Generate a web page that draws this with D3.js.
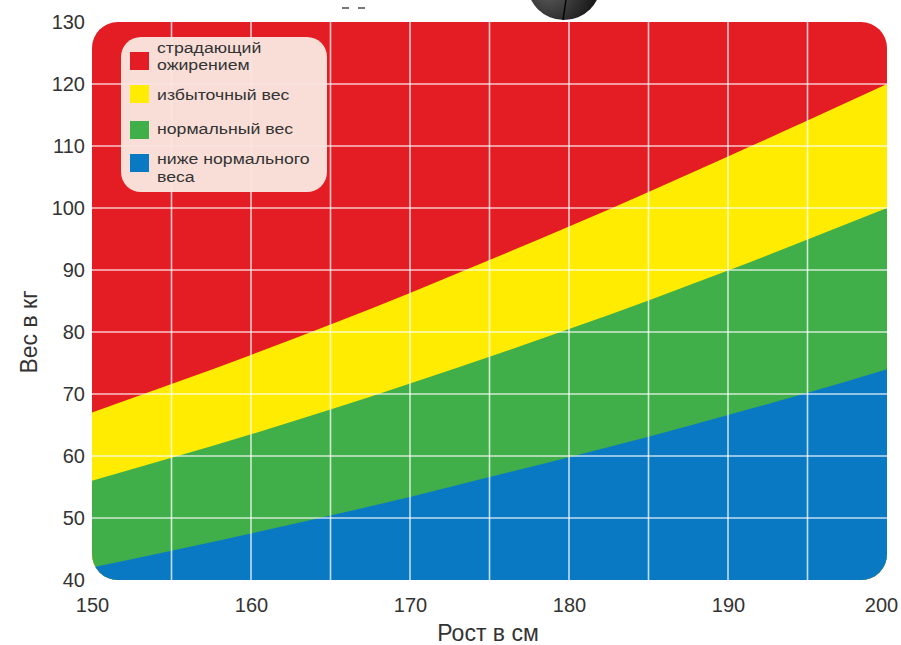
<!DOCTYPE html>
<html>
<head>
<meta charset="utf-8">
<script src="https://cdn.jsdelivr.net/npm/d3@7"></script>
<style>
  html, body { margin: 0; padding: 0; background: #fff; }
  svg { display: block; font-family: "Liberation Sans", Arial, sans-serif; }
</style>
</head>
<body>
<svg id="chart" width="901" height="645"></svg>
<script>
// Height grid (cm) and weight thresholds (kg) that separate the zones
const heights = [150, 155, 160, 165, 170, 175, 180, 185, 190, 195, 200];
const obeseFrom = [67, 71.6, 76.3, 81.2, 86.3, 91.6, 97, 102.6, 108.3, 114.1, 120];
const overweightFrom = [56, 59.7, 63.5, 67.5, 71.7, 76, 80.5, 85.1, 89.9, 94.9, 100];
const normalFrom = [42, 44.7, 47.5, 50.4, 53.4, 56.6, 59.8, 63.1, 66.6, 70.2, 74];

const xTicks = [150, 160, 170, 180, 190, 200];
const yTicks = [40, 50, 60, 70, 80, 90, 100, 110, 120, 130];
const xGrid = [155, 160, 165, 170, 175, 180, 185, 190, 195];
const yGrid = [50, 60, 70, 80, 90, 100, 110, 120];

const zones = [
  { label: ["страдающий", "ожирением"], color: "#e41c24" },
  { label: ["избыточный вес"], color: "#ffec00" },
  { label: ["нормальный вес"], color: "#40ae49" },
  { label: ["ниже нормального", "веса"], color: "#0a79c4" }
];

const svg = d3.select("#chart");
const plotLeft = 92, plotRight = 887, plotTop = 22, plotBottom = 580;

const x = d3.scaleLinear().domain([150, 200]).range([plotLeft, plotRight]);
const y = d3.scaleLinear().domain([40, 130]).range([plotBottom, plotTop]);

// dark round badge peeking in at the top edge
const defs = svg.append("defs");
const rg = defs.append("radialGradient").attr("id", "badge")
  .attr("cx", "30%").attr("cy", "60%").attr("r", "70%");
rg.append("stop").attr("offset", "0%").attr("stop-color", "#5c5c5c");
rg.append("stop").attr("offset", "100%").attr("stop-color", "#111");
svg.append("circle").attr("cx", 564).attr("cy", -17).attr("r", 37)
  .attr("fill", "url(#badge)");
svg.append("line").attr("x1", 566).attr("x2", 563).attr("y1", 0).attr("y2", 20)
  .attr("stroke", "#050505").attr("stroke-width", 1.5);
svg.append("rect").attr("x", 342).attr("y", 7).attr("width", 7).attr("height", 2).attr("fill", "#777");
svg.append("rect").attr("x", 358).attr("y", 7).attr("width", 7).attr("height", 2).attr("fill", "#777");

defs.append("clipPath").attr("id", "plotClip")
  .append("rect").attr("x", plotLeft).attr("y", plotTop)
  .attr("width", plotRight - plotLeft).attr("height", plotBottom - plotTop)
  .attr("rx", 26).attr("ry", 26);

const plot = svg.append("g").attr("clip-path", "url(#plotClip)");

// red background = obese zone
plot.append("rect").attr("x", plotLeft).attr("y", plotTop)
  .attr("width", plotRight - plotLeft).attr("height", plotBottom - plotTop)
  .attr("fill", zones[0].color);

const bands = [
  { from: obeseFrom, color: zones[1].color },
  { from: overweightFrom, color: zones[2].color },
  { from: normalFrom, color: zones[3].color }
];

bands.forEach(b => {
  const area = d3.area()
    .x((d, i) => x(heights[i]))
    .y0(y(40) + 5)
    .y1(d => y(d))
    .curve(d3.curveMonotoneX);
  plot.append("path").datum(b.from).attr("d", area).attr("fill", b.color);
});

// grid
plot.selectAll(".vg").data(xGrid).join("line")
  .attr("x1", d => x(d)).attr("x2", d => x(d))
  .attr("y1", plotTop).attr("y2", plotBottom)
  .attr("stroke", "#ffffff").attr("stroke-opacity", 0.75).attr("stroke-width", 1.6);
plot.selectAll(".hg").data(yGrid).join("line")
  .attr("x1", plotLeft).attr("x2", plotRight)
  .attr("y1", d => y(d)).attr("y2", d => y(d))
  .attr("stroke", "#ffffff").attr("stroke-opacity", 0.75).attr("stroke-width", 1.6);

// legend
const lg = svg.append("g");
lg.append("rect").attr("x", 121).attr("y", 37).attr("width", 206).attr("height", 155)
  .attr("rx", 20).attr("ry", 20).attr("fill", "#f9e6df").attr("fill-opacity", 0.96);

const legendRows = [
  { sq: 52, lines: [52.5, 70] },
  { sq: 85, lines: [100] },
  { sq: 121, lines: [134] },
  { sq: 154, lines: [164, 181.5] }
];
zones.forEach((z, i) => {
  const r = legendRows[i];
  lg.append("rect").attr("x", 130).attr("y", r.sq).attr("width", 19).attr("height", 18)
    .attr("fill", z.color);
  z.label.forEach((t, j) => {
    // short, wide lettering: smaller size stretched horizontally
    lg.append("text").attr("transform", `translate(157,${r.lines[j]}) scale(1.18,1)`)
      .attr("font-size", 15).attr("fill", "#333").text(t);
  });
});

// axes
const yAxis = svg.append("g").attr("transform", `translate(${plotLeft},0)`)
  .call(d3.axisLeft(y).tickValues(yTicks).tickSize(0).tickPadding(7));
yAxis.select(".domain").remove();
yAxis.selectAll("text").attr("font-size", 20).attr("fill", "#333")
  .attr("font-family", "'Liberation Sans', Arial, sans-serif");

const xAxis = svg.append("g").attr("transform", `translate(0,${plotBottom})`)
  .call(d3.axisBottom(x).tickValues(xTicks).tickSize(0).tickPadding(18));
xAxis.select(".domain").remove();
xAxis.selectAll("text").attr("font-size", 20).attr("fill", "#333")
  .attr("font-family", "'Liberation Sans', Arial, sans-serif")
  .attr("dx", d => d === 200 ? -6 : 0);

svg.append("text").attr("x", 488).attr("y", 641).attr("text-anchor", "middle")
  .attr("font-size", 23).attr("fill", "#333").text("Рост в см");

svg.append("text").attr("transform", "translate(37,332) rotate(-90)")
  .attr("text-anchor", "middle").attr("font-size", 23).attr("fill", "#333")
  .text("Вес в кг");
</script>
</body>
</html>
